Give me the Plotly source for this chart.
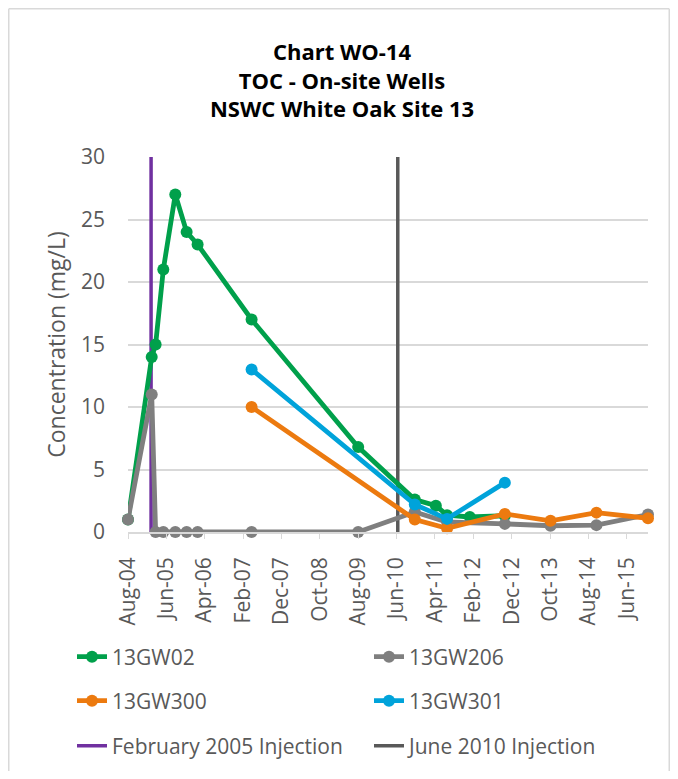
import pandas as pd
import plotly.graph_objects as go

# ---------------- data ----------------
gw02_dates = ["2004-08-16", "2005-02-20", "2005-03-23", "2005-05-23", "2005-08-26",
              "2005-11-24", "2006-02-19", "2007-04-23", "2009-08-15", "2010-11-07",
              "2011-04-23", "2011-07-21", "2012-01-17", "2012-10-21"]
gw02_vals = [1, 14, 15, 21, 27, 24, 23, 17, 6.8, 2.6, 2.1, 1.35, 1.2, 1.3]

gw206_dates = ["2004-08-16", "2005-02-20", "2005-03-23", "2005-05-23", "2005-08-26",
               "2005-11-24", "2006-02-19", "2007-04-23", "2009-08-15", "2010-11-07",
               "2011-07-21", "2012-10-21", "2013-10-18", "2014-10-17", "2015-11-30"]
gw206_vals = [1, 11, 0, 0, 0, 0, 0, 0, 0, 1.6, 0.8, 0.65, 0.5, 0.55, 1.4]

gw300_dates = ["2007-04-23", "2010-11-07", "2011-07-21", "2012-10-21", "2013-10-18",
               "2014-10-17", "2015-11-30"]
gw300_vals = [10, 1.0, 0.3, 1.45, 0.9, 1.55, 1.1]

gw301_dates = ["2007-04-23", "2010-11-07", "2011-07-21", "2012-10-21"]
gw301_vals = [13, 2.2, 1.05, 3.95]

inj_feb2005_dates = ["2005-02-15", "2005-02-15"]
inj_jun2010_dates = ["2010-06-25", "2010-06-25"]
inj_vals = [0, 30]

axis_start = "2004-08-16"
axis_end = "2015-11-30"
tick_step_months = 10

# ---------------- layout constants ----------------
# The page body adds an 8px margin on every side, so the figure is sized to fit.
OFF = 8
W, H = 678 - 2 * OFF, 779 - 2 * OFF
PLOT_L, PLOT_R, PLOT_T, PLOT_B = 128, 648, 157, 532   # page pixels
ML, MR, MT, MB = PLOT_L - OFF, W - (PLOT_R - OFF), PLOT_T - OFF, H - (PLOT_B - OFF)
PW = W - ML - MR
PH = H - MT - MB

FONT = "Open Sans"
TXT = "#595959"
GRID = "#D9D9D9"

tick_dates = []
d = pd.Timestamp(axis_start)
while d <= pd.Timestamp(axis_end):
    tick_dates.append(d)
    d = d + pd.DateOffset(months=tick_step_months)
tick_text = [t.strftime("%b-%y") for t in tick_dates]


def px_x(p):  # page px -> paper x
    return (p - PLOT_L) / PW


def px_y(p):  # page px -> paper y
    return (PLOT_B - p) / PH


fig = go.Figure()

# injection lines (behind data)
fig.add_trace(go.Scatter(x=inj_feb2005_dates, y=inj_vals, mode="lines",
                         name="February 2005 Injection",
                         line=dict(color="#7030A0", width=3.5),
                         legend="legend3"))
fig.add_trace(go.Scatter(x=inj_jun2010_dates, y=inj_vals, mode="lines",
                         name="June 2010 Injection",
                         line=dict(color="#595959", width=3.5),
                         legend="legend3"))

series = [
    ("13GW02", gw02_dates, gw02_vals, "#00A04B", "legend"),
    ("13GW206", gw206_dates, gw206_vals, "#7F7F7F", "legend"),
    ("13GW300", gw300_dates, gw300_vals, "#EC7A0F", "legend2"),
    ("13GW301", gw301_dates, gw301_vals, "#00A3DA", "legend2"),
]
for name, xs, ys, col, lg in series:
    fig.add_trace(go.Scatter(x=xs, y=ys, mode="lines+markers", name=name,
                             line=dict(color=col, width=4.8),
                             marker=dict(color=col, size=12),
                             cliponaxis=False, legend=lg))

leg_common = dict(orientation="h", xanchor="left", yanchor="middle",
                  font=dict(family=FONT, size=21, color=TXT),
                  bgcolor="rgba(0,0,0,0)", entrywidth=252,
                  entrywidthmode="pixels", traceorder="normal")

bx0, bx1 = px_x(OFF + 0.75), px_x(OFF + W - 0.75)
by_top, by_bot = px_y(OFF + 0.75), px_y(OFF + H + 20)
border = dict(color=GRID, width=1.5)

fig.update_layout(
    width=W, height=H,
    margin=dict(l=ML, r=MR, t=MT, b=MB, autoexpand=False),
    paper_bgcolor="white", plot_bgcolor="white",
    showlegend=True,
    title=dict(text="Chart WO-14<br>TOC - On-site Wells<br>NSWC White Oak Site 13",
               x=(342 - OFF) / W, xanchor="center", y=1 - 52 / H, yanchor="middle",
               font=dict(family=FONT, size=22, color="#000000", weight="bold")),
    xaxis=dict(type="date", range=[axis_start, axis_end],
               tickvals=tick_dates, ticktext=tick_text, tickangle=-90,
               showgrid=False, showline=True, linecolor=GRID, linewidth=1.5,
               ticks="outside", ticklen=5, tickcolor=GRID,
               ticklabelstandoff=10,
               tickfont=dict(family=FONT, size=21, color=TXT), zeroline=False),
    yaxis=dict(range=[0, 30], dtick=5, showgrid=True, gridcolor=GRID, gridwidth=1.5,
               zeroline=False, showline=False, ticks="", ticklabelstandoff=22,
               tickfont=dict(family=FONT, size=21, color=TXT),
               title=dict(text="Concentration (mg/L)", standoff=8,
                          font=dict(family=FONT, size=23, color=TXT))),
    legend=dict(x=px_x(72), y=px_y(657), **leg_common),
    legend2=dict(x=px_x(72), y=px_y(701), **leg_common),
    legend3=dict(x=px_x(72), y=px_y(746), **leg_common),
    shapes=[
        dict(type="line", xref="paper", yref="paper", x0=bx0, x1=bx1,
             y0=by_top, y1=by_top, line=border, layer="below"),
        dict(type="line", xref="paper", yref="paper", x0=bx0, x1=bx0,
             y0=by_bot, y1=by_top, line=border, layer="below"),
        dict(type="line", xref="paper", yref="paper", x0=bx1, x1=bx1,
             y0=by_bot, y1=by_top, line=border, layer="below"),
    ],
)

fig.write_html("out.html")
